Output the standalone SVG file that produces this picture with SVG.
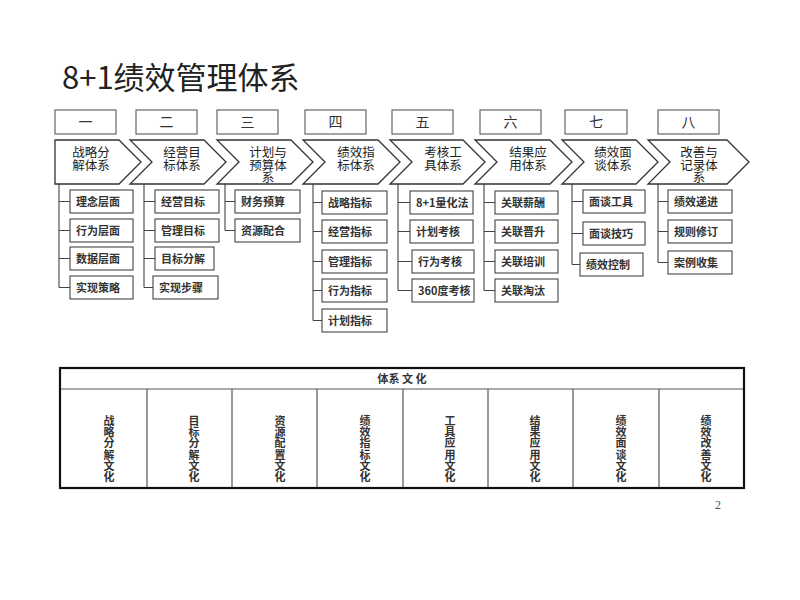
<svg xmlns="http://www.w3.org/2000/svg" width="800" height="600" viewBox="0 0 800 600">
<style>
text{font-family:"Noto Sans CJK SC","Liberation Sans",sans-serif;fill:#222}
.title{font-size:31px}
.num{font-size:14px;text-anchor:middle;fill:#333}
.nbox{fill:#fff;stroke:#666;stroke-width:1.2}
.chev{fill:#fff;stroke:#333;stroke-width:1.3}
.ct{font-size:12.5px;text-anchor:middle}
.cb{fill:#fff;stroke:#444;stroke-width:1.1}
.bt{font-size:11px;font-weight:bold;fill:#333}
.ln{stroke:#444;stroke-width:1.1;fill:none}
.tb{fill:none;stroke:#111;stroke-width:2.2}
.tl{stroke:#555;stroke-width:1.2}
.ht{font-size:11px;font-weight:bold;text-anchor:middle;fill:#333}
.vt{font-size:11px;font-weight:bold;fill:#333;writing-mode:vertical-rl;letter-spacing:0.3px}
.pg{font-family:"Liberation Serif",serif;font-size:12px;fill:#555}
</style>
<rect width="800" height="600" fill="#fff"/>
<text class="title" x="62" y="89">8+1绩效管理体系</text>

<g id="numbers">
<rect class="nbox" x="55" y="110" width="61" height="24"/><text class="num" x="85.5" y="127">一</text>
<rect class="nbox" x="136" y="110" width="61" height="24"/><text class="num" x="166.5" y="127">二</text>
<rect class="nbox" x="217" y="110" width="61" height="24"/><text class="num" x="247.5" y="127">三</text>
<rect class="nbox" x="305" y="110" width="61" height="24"/><text class="num" x="335.5" y="127">四</text>
<rect class="nbox" x="392" y="110" width="61" height="24"/><text class="num" x="422.5" y="127">五</text>
<rect class="nbox" x="480" y="110" width="61" height="24"/><text class="num" x="510.5" y="127">六</text>
<rect class="nbox" x="565" y="110" width="62" height="24"/><text class="num" x="596" y="127">七</text>
<rect class="nbox" x="658" y="110" width="61" height="24"/><text class="num" x="688.5" y="127">八</text>
</g>

<g id="connectors">
<path class="ln" d="M59 169V287.5M59 201.5H70M59 230.5H70M59 258.5H70M59 287.5H70"/>
<path class="ln" d="M144 173V287.5M144 201.5H155M144 230.5H155M144 258.5H155M144 287.5H153"/>
<path class="ln" d="M225 178V230.5M225 201.5H235M225 230.5H235"/>
<path class="ln" d="M313 184V320.5M313 202.5H322M313 231.5H322M313 261.5H322M313 290.5H322M313 320.5H322"/>
<path class="ln" d="M398 184V290.5M398 202.5H410M398 231.5H410M398 261.5H412M398 290.5H412"/>
<path class="ln" d="M484 184V290.5M484 202.5H495M484 231.5H495M484 261.5H495M484 290.5H495"/>
<path class="ln" d="M572 184V264.5M572 201.5H583M572 233.5H583M572 264.5H580"/>
<path class="ln" d="M658 184V262.5M658 201.5H668M658 231.5H668M658 262.5H668"/>
</g>

<g id="chevron1"><path class="chev" d="M55 140H119L141 162L119 184H55Z"/><text class="ct"><tspan x="91" y="157">战略分</tspan><tspan x="91" y="170">解体系</tspan></text></g>
<g id="chevron2"><path class="chev" d="M130 140H204L226 162L204 184H130L152 162Z"/><text class="ct"><tspan x="182" y="157">经营目</tspan><tspan x="182" y="170">标体系</tspan></text></g>
<g id="chevron3"><path class="chev" d="M217 140H291L313 162L291 184H217L239 162Z"/><text class="ct"><tspan x="268" y="157">计划与</tspan><tspan x="268" y="169.5">预算体</tspan><tspan x="268" y="182">系</tspan></text></g>
<g id="chevron4"><path class="chev" d="M303 140H378L400 162L378 184H303L325 162Z"/><text class="ct"><tspan x="356" y="157">绩效指</tspan><tspan x="356" y="170">标体系</tspan></text></g>
<g id="chevron5"><path class="chev" d="M390 140H463L485 162L463 184H390L412 162Z"/><text class="ct"><tspan x="443" y="157">考核工</tspan><tspan x="443" y="170">具体系</tspan></text></g>
<g id="chevron6"><path class="chev" d="M475 140H550L572 162L550 184H475L497 162Z"/><text class="ct"><tspan x="528" y="157">结果应</tspan><tspan x="528" y="170">用体系</tspan></text></g>
<g id="chevron7"><path class="chev" d="M562 140H636L658 162L636 184H562L584 162Z"/><text class="ct"><tspan x="613" y="157">绩效面</tspan><tspan x="613" y="170">谈体系</tspan></text></g>
<g id="chevron8"><path class="chev" d="M648 140H727L749 162L727 184H648L670 162Z"/><text class="ct"><tspan x="699" y="157">改善与</tspan><tspan x="699" y="169.5">记录体</tspan><tspan x="699" y="182">系</tspan></text></g>

<g id="col1">
<rect class="cb" x="70" y="190" width="63" height="23"/><text class="bt" x="76" y="205.5">理念层面</text>
<rect class="cb" x="70" y="219" width="63" height="23"/><text class="bt" x="76" y="234.5">行为层面</text>
<rect class="cb" x="70" y="247" width="63" height="23"/><text class="bt" x="76" y="262.5">数据层面</text>
<rect class="cb" x="70" y="276" width="63" height="23"/><text class="bt" x="76" y="291.5">实现策略</text>
</g>
<g id="col2">
<rect class="cb" x="155" y="190" width="64" height="23"/><text class="bt" x="161" y="205.5">经营目标</text>
<rect class="cb" x="155" y="219" width="64" height="23"/><text class="bt" x="161" y="234.5">管理目标</text>
<rect class="cb" x="155" y="247" width="59" height="23"/><text class="bt" x="161" y="262.5">目标分解</text>
<rect class="cb" x="153" y="276" width="65" height="23"/><text class="bt" x="159" y="291.5">实现步骤</text>
</g>
<g id="col3">
<rect class="cb" x="235" y="190" width="65" height="23"/><text class="bt" x="241" y="205.5">财务预算</text>
<rect class="cb" x="235" y="219" width="65" height="23"/><text class="bt" x="241" y="234.5">资源配合</text>
</g>
<g id="col4">
<rect class="cb" x="322" y="191" width="65" height="23"/><text class="bt" x="328" y="206.5">战略指标</text>
<rect class="cb" x="322" y="220" width="65" height="23"/><text class="bt" x="328" y="235.5">经营指标</text>
<rect class="cb" x="322" y="250" width="65" height="23"/><text class="bt" x="328" y="265.5">管理指标</text>
<rect class="cb" x="322" y="279" width="65" height="23"/><text class="bt" x="328" y="294.5">行为指标</text>
<rect class="cb" x="322" y="309" width="65" height="23"/><text class="bt" x="328" y="324.5">计划指标</text>
</g>
<g id="col5">
<rect class="cb" x="410" y="191" width="63" height="23"/><text class="bt" x="416" y="206.5">8+1量化法</text>
<rect class="cb" x="410" y="220" width="63" height="23"/><text class="bt" x="416" y="235.5">计划考核</text>
<rect class="cb" x="412" y="250" width="62" height="23"/><text class="bt" x="418" y="265.5">行为考核</text>
<rect class="cb" x="412" y="279" width="62" height="23"/><text class="bt" x="418" y="294.5">360度考核</text>
</g>
<g id="col6">
<rect class="cb" x="495" y="191" width="63" height="23"/><text class="bt" x="501" y="206.5">关联薪酬</text>
<rect class="cb" x="495" y="220" width="63" height="23"/><text class="bt" x="501" y="235.5">关联晋升</text>
<rect class="cb" x="495" y="250" width="63" height="23"/><text class="bt" x="501" y="265.5">关联培训</text>
<rect class="cb" x="495" y="279" width="63" height="23"/><text class="bt" x="501" y="294.5">关联淘汰</text>
</g>
<g id="col7">
<rect class="cb" x="583" y="190" width="62" height="23"/><text class="bt" x="589" y="205.5">面谈工具</text>
<rect class="cb" x="583" y="222" width="62" height="23"/><text class="bt" x="589" y="237.5">面谈技巧</text>
<rect class="cb" x="580" y="253" width="63" height="23"/><text class="bt" x="586" y="268.5">绩效控制</text>
</g>
<g id="col8">
<rect class="cb" x="668" y="190" width="64" height="23"/><text class="bt" x="674" y="205.5">绩效递进</text>
<rect class="cb" x="668" y="220" width="64" height="23"/><text class="bt" x="674" y="235.5">规则修订</text>
<rect class="cb" x="668" y="251" width="64" height="23"/><text class="bt" x="674" y="266.5">案例收集</text>
</g>

<g id="culture-table">
<line class="tl" x1="60" y1="389" x2="744" y2="389"/>
<line class="tl" x1="147" y1="389" x2="147" y2="488"/>
<line class="tl" x1="232" y1="389" x2="232" y2="488"/>
<line class="tl" x1="317" y1="389" x2="317" y2="488"/>
<line class="tl" x1="403" y1="389" x2="403" y2="488"/>
<line class="tl" x1="488" y1="389" x2="488" y2="488"/>
<line class="tl" x1="573" y1="389" x2="573" y2="488"/>
<line class="tl" x1="659" y1="389" x2="659" y2="488"/>
<rect class="tb" x="60" y="368" width="684" height="120"/>
<text class="ht" x="402" y="383">体系 文 化</text>
<text class="vt" x="109" y="415">战略分解文化</text>
<text class="vt" x="194" y="415">目标分解文化</text>
<text class="vt" x="280" y="415">资源配置文化</text>
<text class="vt" x="365" y="415">绩效指标文化</text>
<text class="vt" x="450" y="415">工具应用文化</text>
<text class="vt" x="535" y="415">结果应用文化</text>
<text class="vt" x="621" y="415">绩效面谈文化</text>
<text class="vt" x="706" y="415">绩效改善文化</text>
</g>
<text class="pg" x="715" y="509">2</text>
</svg>
